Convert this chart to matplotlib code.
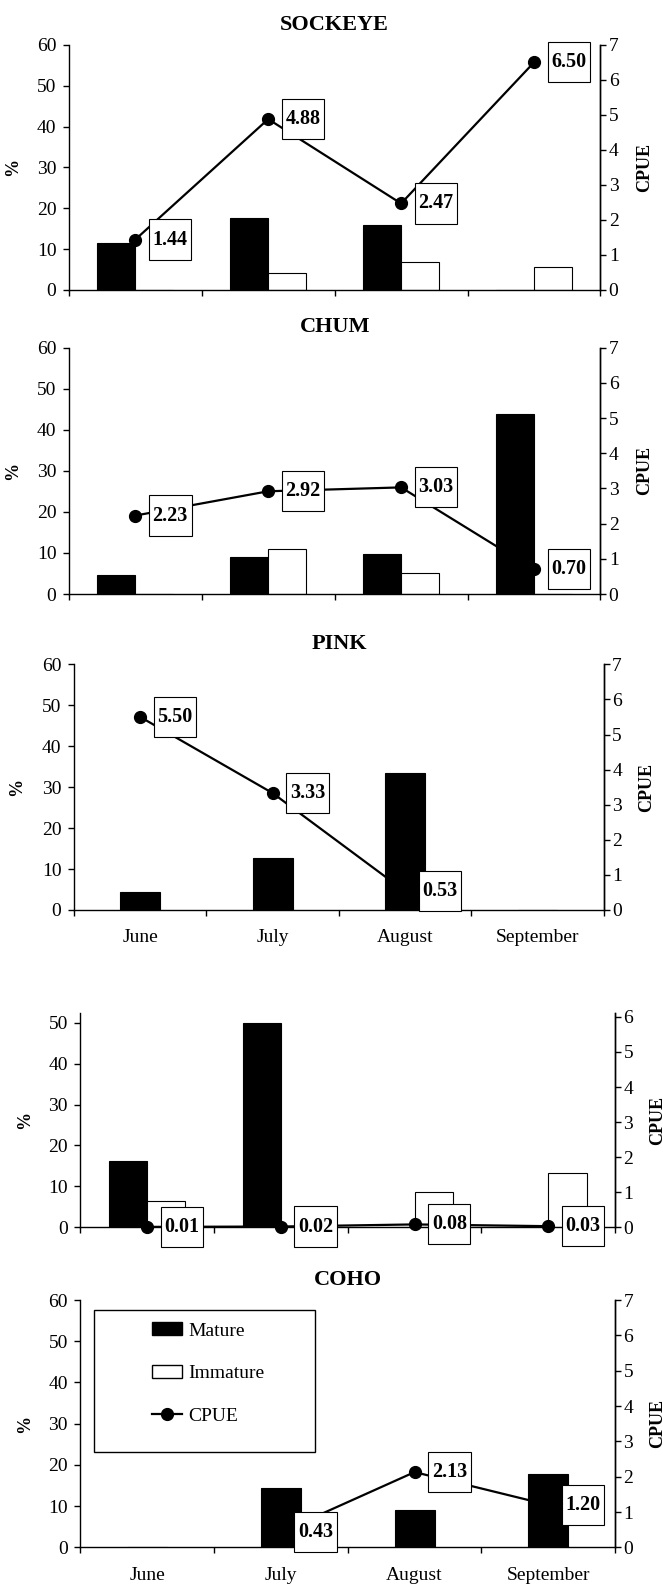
import numpy as np
import matplotlib
matplotlib.use('Agg')
import matplotlib.pyplot as plt
from matplotlib.patches import Patch, Rectangle
from matplotlib.lines import Line2D
from matplotlib.path import Path

plt.rcParams['font.family'] = ['Liberation Serif', 'DejaVu Serif']

# data
months = ['June', 'July', 'August', 'September']

sockeye_mature = [11.6, 17.7, 15.9, 0]
sockeye_immature = [0, 4.1, 6.9, 5.7]
sockeye_cpue = [1.44, 4.88, 2.47, 6.50]

chum_mature = [4.6, 9.0, 9.7, 43.9]
chum_immature = [0, 10.9, 5.0, 0]
chum_cpue = [2.23, 2.92, 3.03, 0.70]

pink_mature = [4.4, 12.6, 33.4, 0]
pink_cpue = [5.50, 3.33, 0.53, np.nan]

panel4_mature = [16.2, 50.0, 0, 0]
panel4_immature = [6.4, 0, 8.6, 13.2]
panel4_cpue = [0.01, 0.02, 0.08, 0.03]

coho_mature = [0, 14.3, 9.0, 17.8]
coho_cpue = [np.nan, 0.43, 2.13, 1.20]

fig = plt.figure(figsize=(6.63, 15.87), dpi=100)


def tall_box(x0, y0, width, height, mutation_size):
    # label box: more room above and below than at the sides
    padx = 0.18 * mutation_size
    pady = 0.5 * mutation_size
    x0, y0 = x0 - padx, y0 - pady
    x1, y1 = x0 + width + 2 * padx, y0 + height + 2 * pady
    return Path([(x0, y0), (x1, y0), (x1, y1), (x0, y1), (x0, y0)],
                closed=True)


def draw_panel(rect, title, mature, immature, cpue, ymax, lticks, rticks,
               show_months=False, line_on_top=False):
    ax = fig.add_axes(rect)
    ax2 = ax.twinx()
    x = np.arange(len(months))

    if immature is None:
        ax.bar(x, mature, width=0.3, color='black', edgecolor='black', lw=0.8)
    else:
        ax.bar(x - 0.143, mature, width=0.286, color='black', edgecolor='black', lw=0.8)
        ax.bar(x + 0.143, immature, width=0.286, color='white', edgecolor='black', lw=0.8)

    ax2.plot(x, cpue, color='black', lw=1.6, marker='o', markersize=8.5,
             clip_on=False)

    ax.set_xlim(-0.5, 3.5)
    ax.set_ylim(0, ymax)
    ax2.set_ylim(0, ymax * 7 / 60)
    ax.set_yticks(lticks)
    ax2.set_yticks(rticks)

    ax.set_xticks([-0.5, 0.5, 1.5, 2.5, 3.5])
    ax.set_xticklabels([])
    ax.set_xticks(x, minor=True)
    if show_months:
        ax.set_xticklabels(months, minor=True)
    ax.tick_params(axis='x', which='major', direction='out', length=4, width=1)
    ax.tick_params(axis='x', which='minor', length=0, pad=14, labelsize=14)
    ax.tick_params(axis='y', direction='out', length=4, width=1, pad=5, labelsize=14)
    ax2.tick_params(axis='y', direction='out', length=4, width=1, pad=2, labelsize=14)

    ax.spines['top'].set_visible(False)
    ax2.spines['top'].set_visible(False)
    ax2.spines['left'].set_visible(False)
    ax2.spines['bottom'].set_visible(False)
    for a in (ax, ax2):
        for s in a.spines.values():
            s.set_linewidth(1)

    ax.set_ylabel('%', fontsize=13, fontweight='bold')
    ax2.set_ylabel('CPUE', fontsize=13, fontweight='bold')
    if title:
        ax.set_title(title, fontsize=16, fontweight='bold', pad=11)

    if line_on_top:
        top = ax2
    else:
        ax.set_zorder(ax2.get_zorder() + 1)
        ax.patch.set_visible(False)
        top = ax

    for xi, v in zip(x, cpue):
        if np.isnan(v):
            continue
        top.annotate(f'{v:.2f}', xy=(xi, v), xycoords=ax2.transData,
                     xytext=(12.4, 0), textcoords='offset points',
                     ha='left', va='center', fontsize=14.5, fontweight='bold',
                     bbox=dict(boxstyle=tall_box, fc='white', ec='black', lw=0.8),
                     zorder=10)
    return ax, ax2


left_ticks = [0, 10, 20, 30, 40, 50, 60]
right_ticks = [0, 1, 2, 3, 4, 5, 6, 7]

ax, ax2 = draw_panel([0.1039, 0.8173, 0.8017, 0.1544], 'SOCKEYE',
                     sockeye_mature, sockeye_immature, sockeye_cpue,
                     60, left_ticks, right_ticks)
ax.yaxis.set_label_coords(-0.09, 0.5)
ax2.yaxis.set_label_coords(1.067, 0.5)

ax, ax2 = draw_panel([0.1039, 0.6257, 0.8017, 0.1552], 'CHUM',
                     chum_mature, chum_immature, chum_cpue,
                     60, left_ticks, right_ticks)
ax.yaxis.set_label_coords(-0.09, 0.5)
ax2.yaxis.set_label_coords(1.067, 0.5)

ax, ax2 = draw_panel([0.1116, 0.4266, 0.7991, 0.1548], 'PINK',
                     pink_mature, None, pink_cpue,
                     60, left_ticks, right_ticks, show_months=True)
ax.yaxis.set_label_coords(-0.092, 0.5)
ax2.yaxis.set_label_coords(1.065, 0.5)

ax, ax2 = draw_panel([0.1211, 0.2267, 0.8068, 0.135], None,
                     panel4_mature, panel4_immature, panel4_cpue,
                     52.4, [0, 10, 20, 30, 40, 50], [0, 1, 2, 3, 4, 5, 6],
                     line_on_top=True)
ax.yaxis.set_label_coords(-0.088, 0.5)
ax2.yaxis.set_label_coords(1.063, 0.5)

ax, ax2 = draw_panel([0.1211, 0.025, 0.8068, 0.1558], 'COHO',
                     coho_mature, None, coho_cpue,
                     60, left_ticks, right_ticks, show_months=True)
ax.yaxis.set_label_coords(-0.088, 0.5)
ax2.yaxis.set_label_coords(1.063, 0.5)

# legend in the COHO panel
ax.add_patch(Rectangle((0.0262, 0.385), 0.4126, 0.574, transform=ax.transAxes,
                       fc='white', ec='black', lw=1, zorder=5))
handles = [Patch(fc='black', ec='black'),
           Patch(fc='white', ec='black'),
           Line2D([], [], color='black', lw=1.6, marker='o', markersize=8.5)]
leg = ax.legend(handles, ['Mature', 'Immature', 'CPUE'], loc='upper left',
                bbox_to_anchor=(0.1344, 0.91), frameon=False, fontsize=14,
                borderpad=0, borderaxespad=0, labelspacing=1.3,
                handlelength=1.55, handleheight=0.65, handletextpad=0.3)
leg.set_zorder(6)

fig.savefig('out.png', dpi=100)
